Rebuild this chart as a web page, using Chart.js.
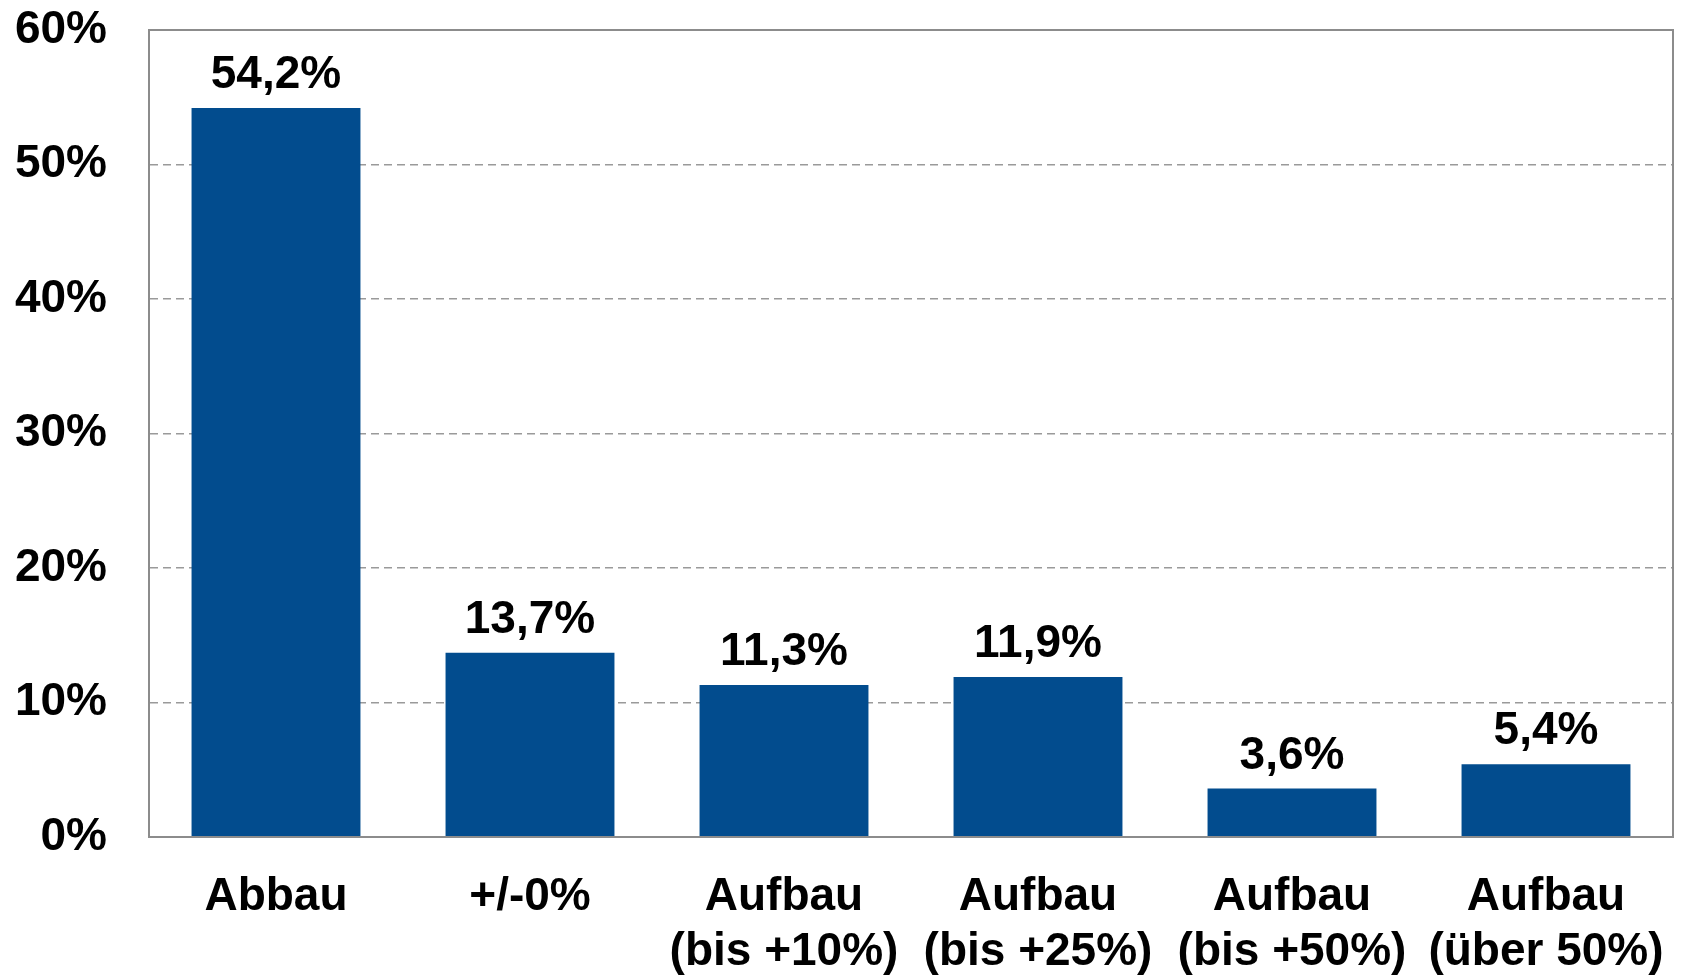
<!DOCTYPE html>
<html>
<head>
<meta charset="utf-8">
<script src="https://cdn.jsdelivr.net/npm/chart.js@4/dist/chart.umd.min.js"></script>
<style>
  html, body { margin: 0; padding: 0; background: #ffffff; }
  #wrap { width: 1684px; height: 975px; position: relative; }
</style>
</head>
<body>
<div id="wrap"><canvas id="c"></canvas></div>
<script>
const categories = [
  ["Abbau"],
  ["+/-0%"],
  ["Aufbau", "(bis +10%)"],
  ["Aufbau", "(bis +25%)"],
  ["Aufbau", "(bis +50%)"],
  ["Aufbau", "(über 50%)"]
];
const values = [54.2, 13.7, 11.3, 11.9, 3.6, 5.4];
const yTicks = [0, 10, 20, 30, 40, 50, 60];

const FONT = '"Liberation Sans", Arial, Helvetica, sans-serif';
const BAR_COLOR = '#024c8e';
const AXIS_COLOR = '#8c8c8c';
const GRID_COLOR = '#9a9a9a';

const fmt = v => v.toFixed(1).replace('.', ',') + '%';

const bgPlugin = {
  id: 'bg',
  beforeDraw(chart) {
    const ctx = chart.ctx;
    ctx.save();
    ctx.fillStyle = '#ffffff';
    ctx.fillRect(0, 0, chart.width, chart.height);
    ctx.restore();
  }
};

const framePlugin = {
  id: 'frame',
  afterDraw(chart) {
    const a = chart.chartArea;
    const ctx = chart.ctx;
    ctx.save();
    ctx.strokeStyle = AXIS_COLOR;
    ctx.lineWidth = 2;
    ctx.strokeRect(a.left, a.top, a.right - a.left, a.bottom - a.top);
    ctx.restore();
  }
};

const labelPlugin = {
  id: 'valueLabels',
  afterDatasetsDraw(chart) {
    const ctx = chart.ctx;
    const meta = chart.getDatasetMeta(0);
    ctx.save();
    ctx.font = 'bold 46px ' + FONT;
    ctx.fillStyle = '#000000';
    ctx.textAlign = 'center';
    ctx.textBaseline = 'alphabetic';
    meta.data.forEach((bar, i) => {
      ctx.fillText(fmt(values[i]), bar.x, bar.y - 20);
    });
    ctx.restore();
  }
};

new Chart(document.getElementById('c'), {
  type: 'bar',
  data: {
    labels: categories,
    datasets: [{
      data: values,
      backgroundColor: BAR_COLOR,
      borderWidth: 0,
      barPercentage: 0.665,
      categoryPercentage: 1.0
    }]
  },
  options: {
    responsive: true,
    maintainAspectRatio: false,
    animation: false,
    layout: { padding: { top: 30, right: 11, left: 0, bottom: 0 } },
    plugins: {
      legend: { display: false },
      tooltip: { enabled: false }
    },
    scales: {
      x: {
        offset: true,
        grid: { display: false, drawTicks: false },
        border: { display: true, color: AXIS_COLOR, width: 2 },
        ticks: {
          color: '#000000',
          font: { family: FONT, size: 46, weight: 'bold', lineHeight: 1.2 },
          padding: 33,
          maxRotation: 0,
          minRotation: 0,
          autoSkip: false
        },
        afterFit(s) {
          s.height = 138;
          s.paddingLeft = 0; s.paddingRight = 0; s.paddingTop = 0; s.paddingBottom = 0;
        }
      },
      y: {
        min: 0,
        max: 60,
        afterBuildTicks(s) { s.ticks = yTicks.map(v => ({ value: v })); },
        grid: {
          drawTicks: false,
          color: ctx => (ctx.tick && (ctx.tick.value === 0 || ctx.tick.value === 60)) ? 'rgba(0,0,0,0)' : GRID_COLOR,
          lineWidth: 1.5
        },
        border: { display: true, color: AXIS_COLOR, width: 2, dash: [8, 5] },
        ticks: {
          color: '#000000',
          font: { family: FONT, size: 46, weight: 'bold' },
          padding: 42,
          callback: v => v + '%'
        },
        afterFit(s) {
          s.width = 149;
          s.paddingLeft = 0; s.paddingRight = 0; s.paddingTop = 0; s.paddingBottom = 0;
        }
      }
    }
  },
  plugins: [bgPlugin, labelPlugin, framePlugin]
});
</script>
</body>
</html>
